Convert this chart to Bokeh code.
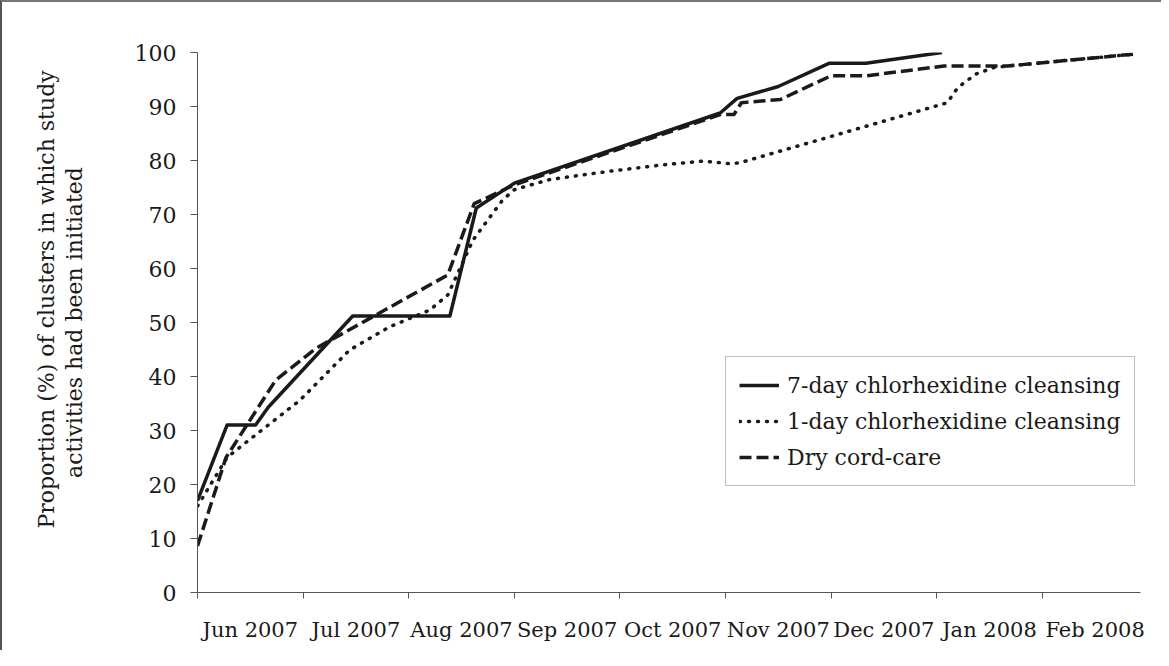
from bokeh.plotting import figure
from bokeh.models import (FixedTicker, Range1d, Legend, LegendItem,
                          CustomJSTickFormatter, Title)
from bokeh.embed import file_html
from bokeh.resources import INLINE

# ---- data (x = months since 1 Jun 2007) ----
month_labels = ["Jun 2007", "Jul 2007", "Aug 2007", "Sep 2007", "Oct 2007",
                "Nov 2007", "Dec 2007", "Jan 2008", "Feb 2008"]
y_ticks = [0, 10, 20, 30, 40, 50, 60, 70, 80, 90, 100]

seven_day_x = [0.0, 0.28, 0.55, 0.67, 1.47, 2.39, 2.64, 3.0, 4.95, 5.11, 5.5, 5.98, 6.33, 7.05]
seven_day_y = [17.0, 31.0, 31.0, 34.3, 51.2, 51.2, 71.2, 75.8, 88.8, 91.5, 93.7, 98.0, 98.0, 100.0]

one_day_x = [0.0, 0.28, 0.46, 0.97, 1.44, 1.82, 2.2, 2.37, 2.61, 2.89, 3.0, 3.34, 3.9,
             4.41, 4.79, 5.05, 5.14, 5.99, 7.1, 7.2, 7.37, 7.54, 7.67, 8.87]
one_day_y = [16.0, 25.0, 27.8, 35.6, 44.9, 49.2, 52.3, 55.1, 65.3, 72.7, 74.6, 76.5, 78.0,
             79.2, 79.9, 79.4, 79.6, 84.4, 90.7, 93.5, 96.0, 97.2, 97.5, 99.7]

dry_x = [0.0, 0.27, 0.74, 1.12, 2.37, 2.62, 3.0, 4.95, 5.08, 5.15, 5.52, 6.0, 6.34, 7.07, 7.67, 8.87]
dry_y = [8.6, 25.0, 39.3, 45.2, 58.8, 72.0, 75.5, 88.5, 88.5, 90.7, 91.3, 95.7, 95.7, 97.5, 97.5, 99.7]

series_labels = ["7-day chlorhexidine cleansing", "1-day chlorhexidine cleansing", "Dry cord-care"]
y_title_lines = ["Proportion (%) of clusters in which study", "activities had been initiated"]

FONT = "DejaVu Serif"
FS = "22px"
INK = "#1a1a1a"
AXIS = "#555555"

p = figure(width=1161, height=650, output_backend="svg", toolbar_location=None,
           x_range=Range1d(0, 8.93), y_range=Range1d(0, 100),
           min_border_left=195, min_border_right=23, min_border_top=50,
           min_border_bottom=60)
p.outline_line_color = None
p.grid.visible = False
p.styles = {"border-left": "2px solid #555555", "border-top": "2px solid #777777"}

r1 = p.line(seven_day_x, seven_day_y, line_color=INK, line_width=3.5, line_join="round")
r2 = p.line(one_day_x, one_day_y, line_color=INK, line_width=3.5,
            line_dash="1 8", line_cap="round", line_join="round")
r3 = p.line(dry_x, dry_y, line_color=INK, line_width=3.5, line_dash="12 5")

# x axis: labels centred between month ticks
xa = p.xaxis[0]
xa.ticker = FixedTicker(ticks=[i + 0.5 for i in range(len(month_labels))],
                        minor_ticks=list(range(len(month_labels))))
xa.formatter = CustomJSTickFormatter(args=dict(labels=month_labels),
                                     code="return labels[Math.round(tick - 0.5)] || '';")
xa.major_tick_out = 0
xa.major_tick_in = 0
xa.minor_tick_out = 6
xa.minor_tick_in = 0
xa.minor_tick_line_color = AXIS
xa.axis_line_color = AXIS
xa.major_label_standoff = 19
xa.major_label_text_font = FONT
xa.major_label_text_font_size = "21px"
xa.major_label_text_color = INK

ya = p.yaxis[0]
ya.ticker = FixedTicker(ticks=y_ticks)
ya.major_tick_out = 7
ya.major_tick_in = 0
ya.minor_tick_out = 0
ya.minor_tick_in = 0
ya.major_tick_line_color = AXIS
ya.axis_line_color = AXIS
ya.major_label_standoff = 14
ya.major_label_text_font = FONT
ya.major_label_text_font_size = FS
ya.major_label_text_color = INK
# second line of the y title is the axis label, first line is a left title
ya.axis_label = y_title_lines[1]
ya.axis_label_text_font = FONT
ya.axis_label_text_font_size = FS
ya.axis_label_text_font_style = "normal"
ya.axis_label_text_color = INK
ya.axis_label_standoff = 45

p.add_layout(Title(text=y_title_lines[0], align="left", offset=64, standoff=0,
                   text_font=FONT, text_font_size=FS, text_font_style="normal",
                   text_color=INK), "left")

legend = Legend(items=[LegendItem(label=series_labels[0], renderers=[r1]),
                       LegendItem(label=series_labels[1], renderers=[r2]),
                       LegendItem(label=series_labels[2], renderers=[r3])],
                location=(528, 106))
legend.border_line_color = "#808080"
legend.border_line_width = 1
legend.background_fill_color = "white"
legend.background_fill_alpha = 1
legend.label_text_font = FONT
legend.label_text_font_size = FS
legend.label_text_color = INK
legend.glyph_width = 40
legend.glyph_height = 20
legend.label_height = 30
legend.spacing = 6
legend.padding = 13
legend.margin = 0
legend.label_standoff = 8
p.add_layout(legend, "center")

open("out.html", "w").write(file_html(p, INLINE))
